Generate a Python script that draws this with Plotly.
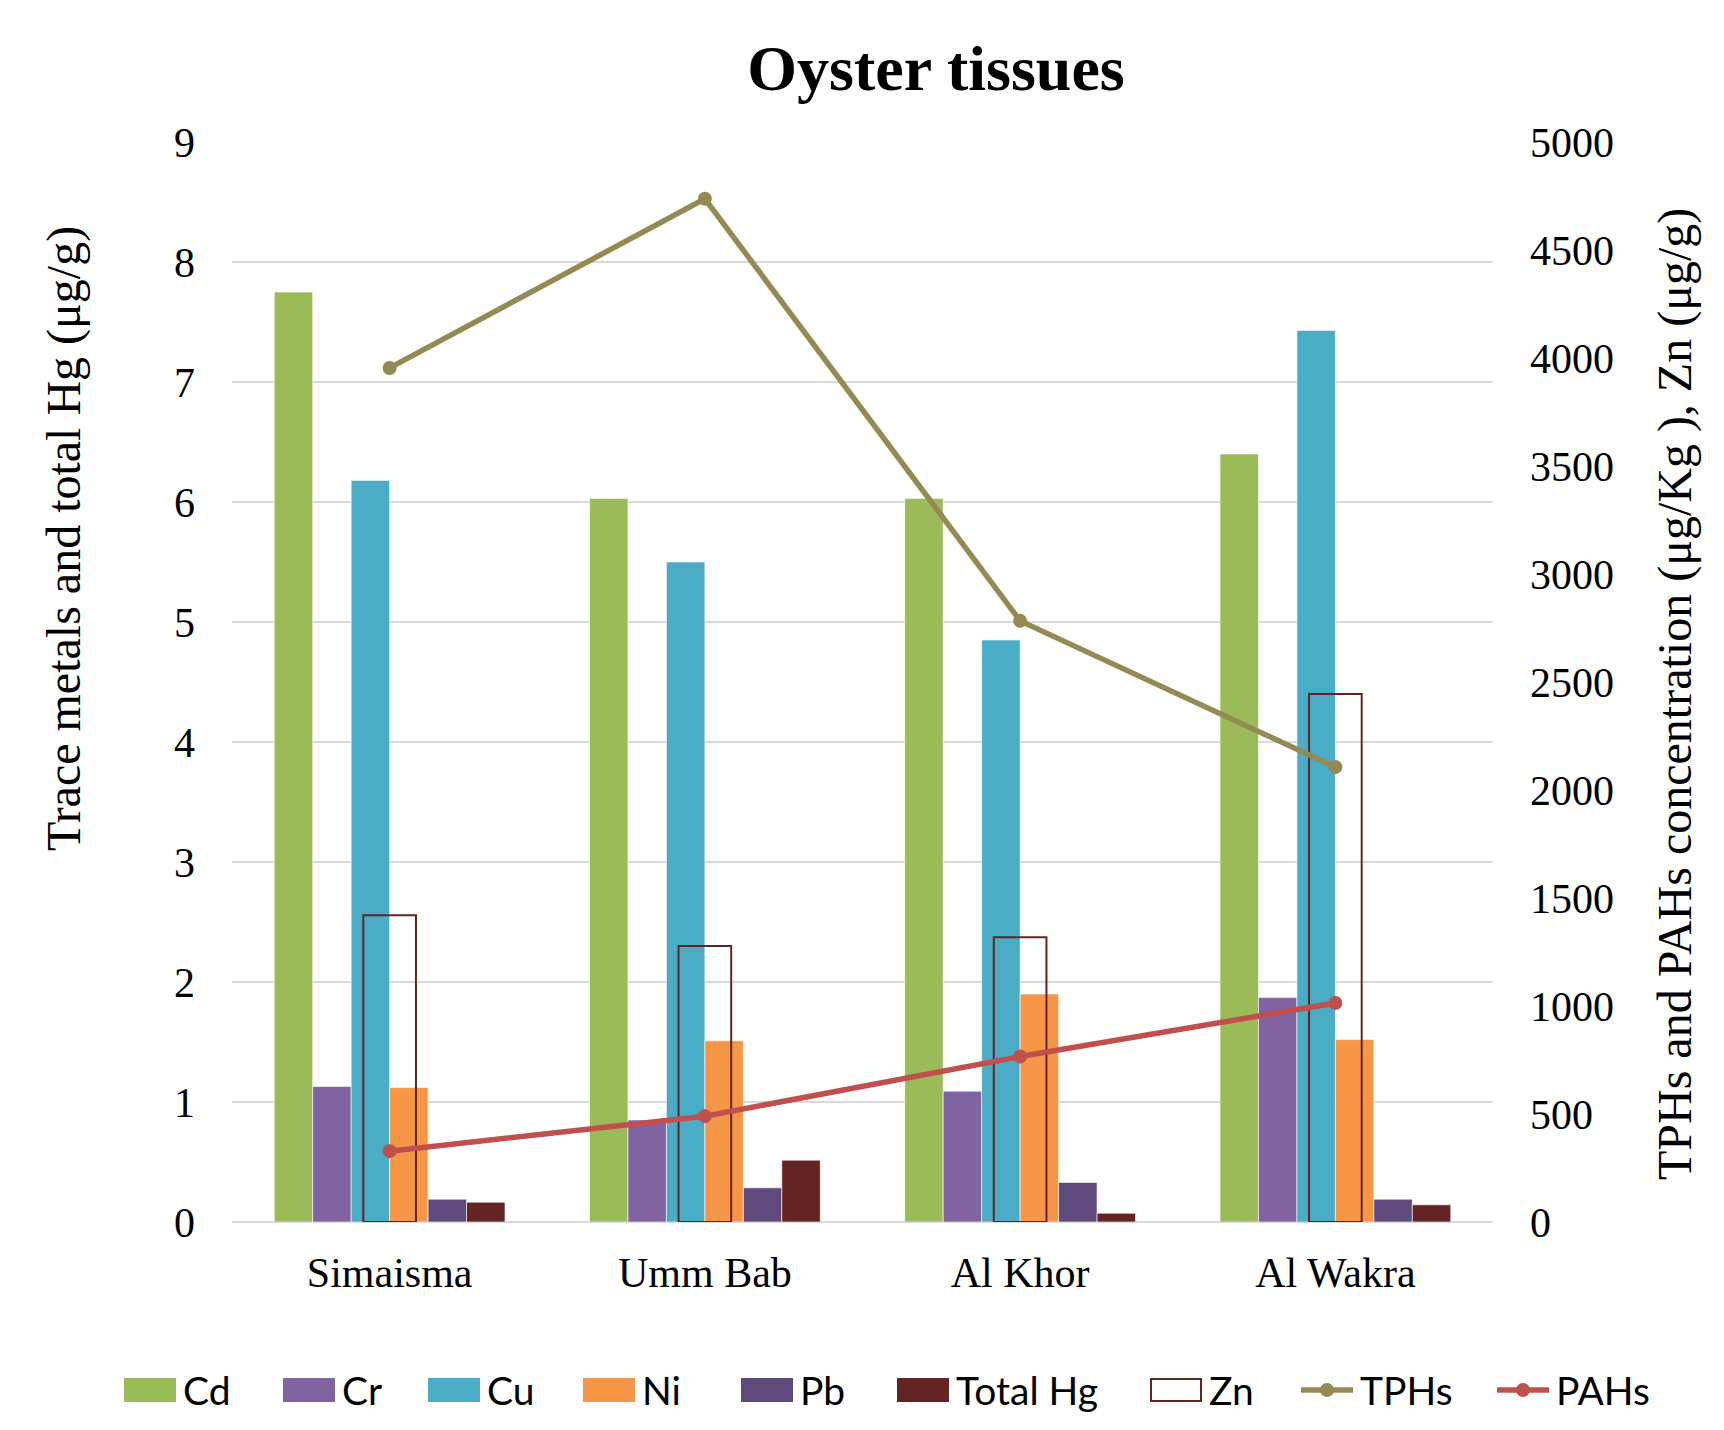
import plotly.graph_objects as go

# Sampling sites
sites = ["Simaisma", "Umm Bab", "Al Khor", "Al Wakra"]

# Trace metals and total Hg (µg/g), left axis
cd = [7.75, 6.03, 6.03, 6.40]
cr = [1.13, 0.85, 1.09, 1.87]
cu = [6.18, 5.50, 4.85, 7.43]
ni = [1.12, 1.51, 1.90, 1.52]
pb = [0.19, 0.285, 0.33, 0.19]
total_hg = [0.165, 0.515, 0.073, 0.143]

# Zn (µg/g), TPHs and PAHs (µg/Kg), right axis
zn = [1420, 1278, 1318, 2444]
tphs = [3954, 4737, 2783, 2106]
pahs = [328, 490, 766, 1014]

left_ticks = list(range(0, 10))
right_ticks = list(range(0, 5001, 500))

metal_names = ["Cd", "Cr", "Cu", "Ni", "Pb", "Total Hg"]
metal_values = [cd, cr, cu, ni, pb, total_hg]
metal_colors = ["#9BBB59", "#8064A2", "#4BACC6", "#F79646", "#604A7B", "#632523"]
ZN_COLOR = "#632523"
TPH_COLOR = "#948A54"
PAH_COLOR = "#C0504D"

SERIF = "Liberation Serif, Times New Roman, serif"
SANS = "Lato, Carlito, Calibri, sans-serif"

W, H = 1724, 1430
L, R, T, B = 232, 1493, 142, 1222

LINE_W = 5.5
MARK_SIZE = 14

BAR_W = 0.122
fig = go.Figure()

n = len(metal_names)
for i, (name, vals, col) in enumerate(zip(metal_names, metal_values, metal_colors)):
    fig.add_trace(go.Bar(
        x=sites, y=vals, name=name,
        marker=dict(color=col, line=dict(color="rgba(255,255,255,0.6)", width=1)),
        width=BAR_W, offset=-n * BAR_W / 2 + i * BAR_W,
        yaxis="y", showlegend=False,
    ))

ZN_W = 0.167
fig.add_trace(go.Bar(
    x=sites, y=zn, name="Zn",
    marker=dict(color="rgba(0,0,0,0)", line=dict(color=ZN_COLOR, width=2)),
    width=ZN_W, offset=-ZN_W / 2,
    yaxis="y2", showlegend=False,
))

fig.add_trace(go.Scatter(
    x=sites, y=tphs, name="TPHs", mode="lines+markers",
    line=dict(color=TPH_COLOR, width=LINE_W),
    marker=dict(color=TPH_COLOR, size=MARK_SIZE),
    yaxis="y2", showlegend=False,
))
fig.add_trace(go.Scatter(
    x=sites, y=pahs, name="PAHs", mode="lines+markers",
    line=dict(color=PAH_COLOR, width=LINE_W),
    marker=dict(color=PAH_COLOR, size=MARK_SIZE),
    yaxis="y2", showlegend=False,
))


def px_x(px):
    return (px - L) / (R - L)


def px_y(py):
    return (B - py) / (B - T)


# Legend row drawn beneath the plot
shapes = []
annotations = []
legend_y0, legend_y1 = 1378, 1402
legend_mid = (legend_y0 + legend_y1) / 2
swatch_w = 52
legend_items = [
    ("Cd", 124, "bar", metal_colors[0]),
    ("Cr", 283, "bar", metal_colors[1]),
    ("Cu", 428, "bar", metal_colors[2]),
    ("Ni", 583, "bar", metal_colors[3]),
    ("Pb", 741, "bar", metal_colors[4]),
    ("Total Hg", 897, "bar", metal_colors[5]),
    ("Zn", 1150, "box", ZN_COLOR),
    ("TPHs", 1301, "line", TPH_COLOR),
    ("PAHs", 1497, "line", PAH_COLOR),
]
for label, x0, kind, col in legend_items:
    if kind == "bar":
        shapes.append(dict(type="rect", xref="paper", yref="paper",
                           x0=px_x(x0), x1=px_x(x0 + swatch_w),
                           y0=px_y(legend_y1), y1=px_y(legend_y0),
                           fillcolor=col, line=dict(width=0)))
    elif kind == "box":
        shapes.append(dict(type="rect", xref="paper", yref="paper",
                           x0=px_x(x0 + 1), x1=px_x(x0 + swatch_w - 1),
                           y0=px_y(legend_y1 - 1), y1=px_y(legend_y0 + 1),
                           fillcolor="white", line=dict(color=col, width=2)))
    else:
        shapes.append(dict(type="line", xref="paper", yref="paper",
                           x0=px_x(x0), x1=px_x(x0 + swatch_w),
                           y0=px_y(legend_mid), y1=px_y(legend_mid),
                           line=dict(color=col, width=LINE_W)))
        cx = x0 + swatch_w / 2
        r = MARK_SIZE / 2
        shapes.append(dict(type="circle", xref="paper", yref="paper",
                           x0=px_x(cx - r), x1=px_x(cx + r),
                           y0=px_y(legend_mid + r), y1=px_y(legend_mid - r),
                           fillcolor=col, line=dict(width=0)))
    annotations.append(dict(text=label, xref="paper", yref="paper",
                            x=px_x(x0 + swatch_w + 5), y=px_y(legend_mid),
                            xanchor="left", yanchor="middle", showarrow=False,
                            font=dict(family=SANS, size=39, color="black")))

# Axis titles
annotations.append(dict(text="Trace metals and total Hg (μg/g)", xref="paper", yref="paper",
                        x=px_x(64), y=px_y(539), textangle=-90, showarrow=False,
                        xanchor="center", yanchor="middle",
                        font=dict(family=SERIF, size=48, color="black")))
annotations.append(dict(text="TPHs and PAHs concentration (μg/Kg ), Zn (μg/g)",
                        xref="paper", yref="paper",
                        x=px_x(1675), y=px_y(694), textangle=-90, showarrow=False,
                        xanchor="center", yanchor="middle",
                        font=dict(family=SERIF, size=48, color="black")))

fig.update_layout(
    width=W, height=H,
    margin=dict(l=L, r=W - R, t=T, b=H - B, pad=0),
    paper_bgcolor="white", plot_bgcolor="white",
    barmode="overlay",
    showlegend=False,
    title=dict(text="<b>Oyster tissues</b>", x=936 / W, y=1 - 68 / H,
               xref="container", yref="container",
               xanchor="center", yanchor="middle",
               font=dict(family=SERIF, size=64, color="black")),
    xaxis=dict(type="category", categoryorder="array", categoryarray=sites,
               range=[-0.5, len(sites) - 0.5],
               showgrid=False, showline=False, zeroline=False, ticks="",
               ticklabelstandoff=22,
               tickfont=dict(family=SERIF, size=42, color="black")),
    yaxis=dict(range=[0, 9], tickvals=left_ticks, ticks="",
               showgrid=True, gridcolor="#D9D9D9", gridwidth=2,
               zeroline=True, zerolinecolor="#D9D9D9", zerolinewidth=2,
               showline=False, ticklabelstandoff=36,
               tickfont=dict(family=SERIF, size=42, color="black")),
    yaxis2=dict(range=[0, 5000], tickvals=right_ticks, overlaying="y", side="right",
                ticks="", showgrid=False, zeroline=False, showline=False,
                ticklabelstandoff=36,
                tickfont=dict(family=SERIF, size=42, color="black")),
    shapes=shapes,
    annotations=annotations,
)

fig.write_html("out.html")
